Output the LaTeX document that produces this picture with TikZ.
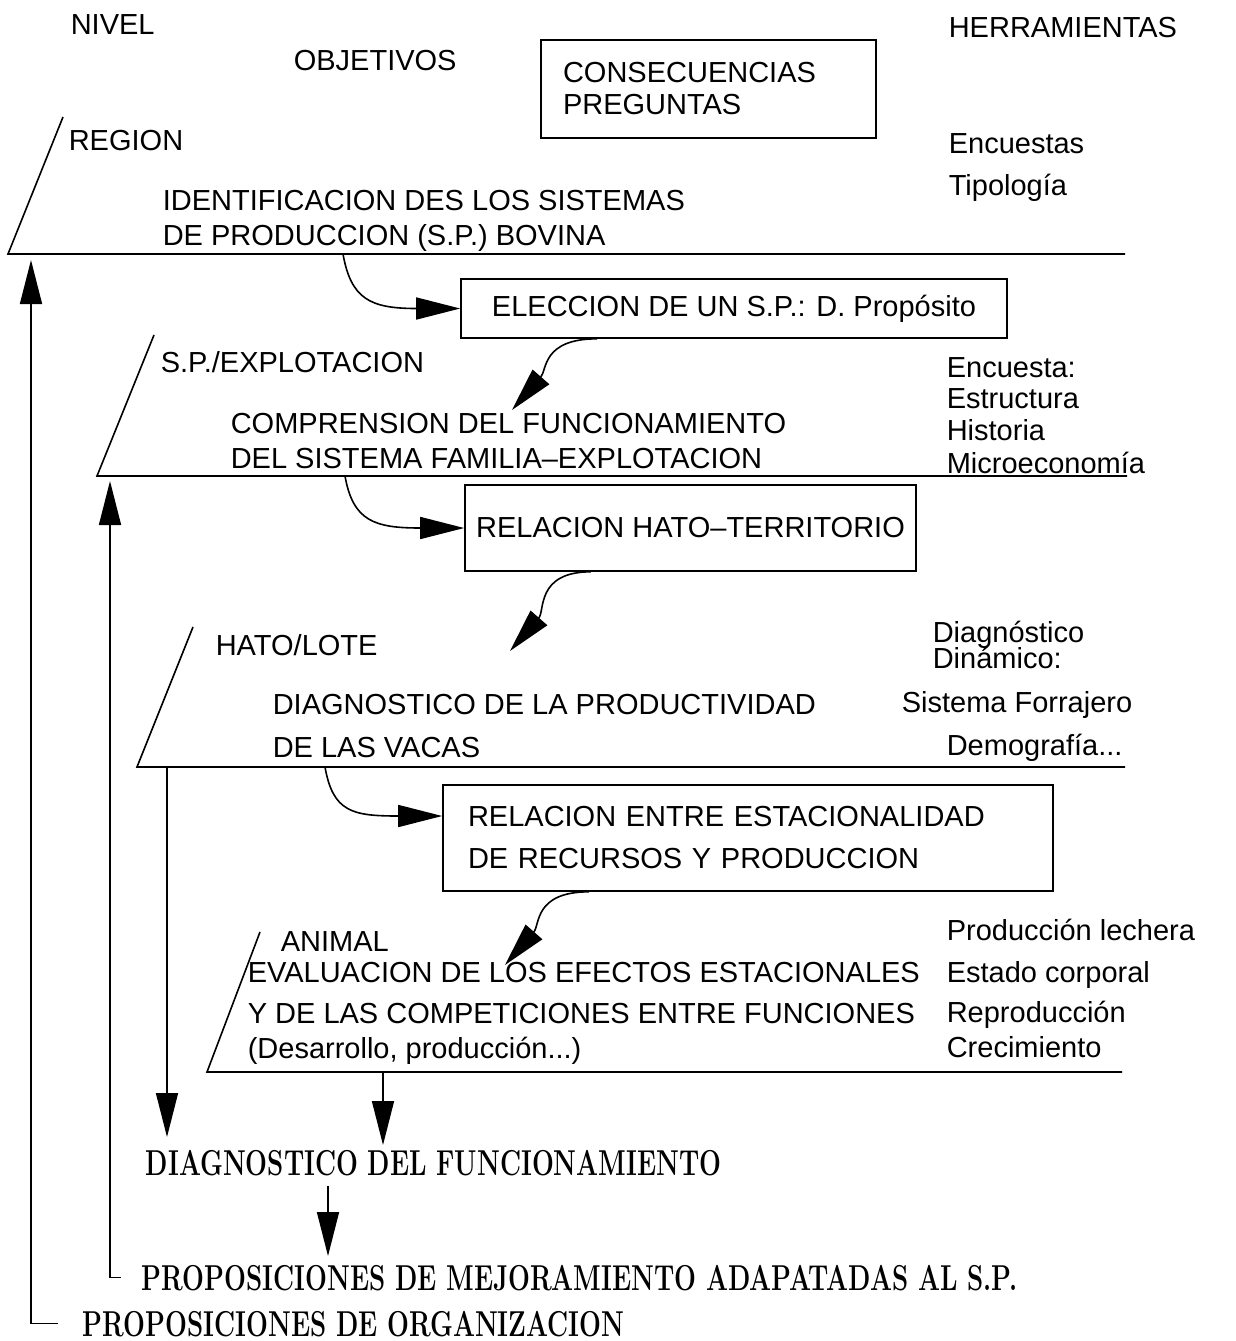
\documentclass[tikz,border=0pt]{standalone}
\usepackage{fontspec}
\setsansfont{Liberation Sans}
\usetikzlibrary{arrows.meta}
\usetikzlibrary{calc}

\newcommand\narrowtxt[1]{\scalebox{0.72}[1]{#1}}

\begin{document}
\begin{tikzpicture}[x=0.5pt, y=-0.5pt, line width=0.8pt,
    >={Triangle[length=22pt,width=11pt]},
    lbl/.style={anchor=base west, inner sep=0pt,
      font=\sffamily\fontsize{14.5}{17}\selectfont},
    res/.style={anchor=base west, inner sep=0pt,
      font=\bfseries\fontsize{18}{20}\selectfont},
    box/.style={draw, inner sep=0pt,
      font=\sffamily\fontsize{14.5}{21}\selectfont}]
  \useasboundingbox (0,0) rectangle (1236,1341);

  % heads
  \node[lbl] (nivel) at (70,34) {NIVEL};
  \node[lbl] (objet) at (293,70) {OBJETIVOS};
  \node[lbl] (herr) at (948,37) {HERRAMIENTAS};
  \node[box, align=left, text width=145.5pt, minimum width=167.5pt,
    minimum height=49pt, font=\sffamily\fontsize{14.5}{16}\selectfont]
    (conseq) at (708.5,89) {CONSECUENCIAS\\PREGUNTAS};

  % levels
  \foreach \tx/\ty/\bx/\by/\ex in {63/117/8/254/1125, 154/335/97/476/1127,
      193/627/137/767/1125, 260/932/207/1072/1122}
    \draw (\tx,\ty) -- (\bx,\by) -- (\ex,\by);

  \node[lbl] (region) at (68,150) {REGION};
  \node[lbl] (ident1) at (162,210) {IDENTIFICACION DES LOS SISTEMAS};
  \node[lbl] (ident2) at (162,245) {DE PRODUCCION (S.P.) BOVINA};
  \node[lbl] (tool11) at (948,153) {Encuestas};
  \node[lbl] (tool12) at (948,195) {Tipología};

  \node[lbl] (spexp) at (160,372) {S.P./EXPLOTACION};
  \node[lbl] (compr1) at (230,433) {COMPRENSION DEL FUNCIONAMIENTO};
  \node[lbl] (compr2) at (230,468) {DEL SISTEMA FAMILIA--EXPLOTACION};
  \node[lbl] (tool21) at (946,377) {Encuesta:};
  \node[lbl] (tool22) at (946,408) {Estructura};
  \node[lbl] (tool23) at (946,440) {Historia};
  \node[lbl] (tool24) at (946,473) {Microeconomía};

  \node[lbl] (hato) at (215,655) {HATO/LOTE};
  \node[lbl] (diagp1) at (272,714) {DIAGNOSTICO DE LA PRODUCTIVIDAD};
  \node[lbl] (diagp2) at (272,757) {DE LAS VACAS};
  \node[lbl] (tool31) at (932,642) {Diagnóstico};
  \node[lbl] (tool32) at (932,668) {Dinámico:};
  \node[lbl] (tool33) at (901,712) {Sistema Forrajero};
  \node[lbl] (tool34) at (946,755) {Demografía...};

  \node[lbl] (animal) at (280,951) {ANIMAL};
  \node[lbl] (eval1) at (247,982) {EVALUACION DE LOS EFECTOS ESTACIONALES};
  \node[lbl] (eval2) at (247,1023) {Y DE LAS COMPETICIONES ENTRE FUNCIONES};
  \node[lbl] (eval3) at (247,1058) {(Desarrollo, producción...)};
  \node[lbl] (tool41) at (946,940) {Producción lechera};
  \node[lbl] (tool42) at (946,982) {Estado corporal};
  \node[lbl] (tool43) at (946,1022) {Reproducción};
  \node[lbl] (tool44) at (946,1057) {Crecimiento};

  % boxes between levels
  \node[box, minimum width=273pt, minimum height=29.5pt]
    (elec) at (734,308.5) {ELECCION DE UN S.P.: D. Propósito};
  \node[box, minimum width=225.5pt, minimum height=43pt]
    (relh) at (690.5,528) {RELACION HATO--TERRITORIO};
  \node[box, align=left, text width=280pt, minimum width=305pt,
    minimum height=53pt]
    (rele) at (748,838) {RELACION ENTRE ESTACIONALIDAD\\DE RECURSOS Y PRODUCCION};

  \coordinate (c1) at (343,254);
  \coordinate (c2) at (345,476);
  \coordinate (c3) at (325,767);
  \coordinate (t1) at (512,410);
  \coordinate (t2) at (510,651);
  \coordinate (t3) at (505,965);

  \draw[->] (c1) .. controls +(8,45) and +(-90,0) .. (elec.west);
  \draw[->] ($(elec.south west)!0.25!(elec.south east)$)
    .. controls +(-55,0) and +(35,-40) .. (t1);
  \draw[->] (c2) .. controls +(8,45) and +(-90,0) .. (relh.west);
  \draw[->] ($(relh.south west)!0.28!(relh.south east)$)
    .. controls +(-55,0) and +(35,-40) .. (t2);
  \draw[->] (c3) .. controls +(8,45) and +(-90,0) .. ([yshift=11pt]rele.west);
  \draw[->] ($(rele.south west)!0.24!(rele.south east)$)
    .. controls +(-55,0) and +(35,-40) .. (t3);

  % results
  \node[res] (diag) at (145,1175) {\narrowtxt{DIAGNOSTICO DEL FUNCIONAMIENTO}};
  \node[res] (prop) at (141,1290)
    {\narrowtxt{PROPOSICIONES DE MEJORAMIENTO ADAPATADAS AL S.P.}};
  \node[res] (orga) at (82,1336) {\narrowtxt{PROPOSICIONES DE ORGANIZACION}};

  \coordinate (up1) at (31,260);
  \coordinate (up2) at (110,481);
  \coordinate (dn3) at (167,767);
  \coordinate (dn4) at (383,1072);
  \coordinate (dn5) at (328,1186);

  \draw[->] ([xshift=-12pt]orga.west) -| (up1);
  \draw[->] ([xshift=-10pt]prop.west) -| (up2);
  \draw[->, shorten >=6pt] (dn3) -- (dn3 |- diag.north);
  \draw[->, shorten >=2pt] (dn4) -- (dn4 |- diag.north);
  \draw[->, shorten >=4pt] (dn5) -- (dn5 |- prop.north);
\end{tikzpicture}
\end{document}
